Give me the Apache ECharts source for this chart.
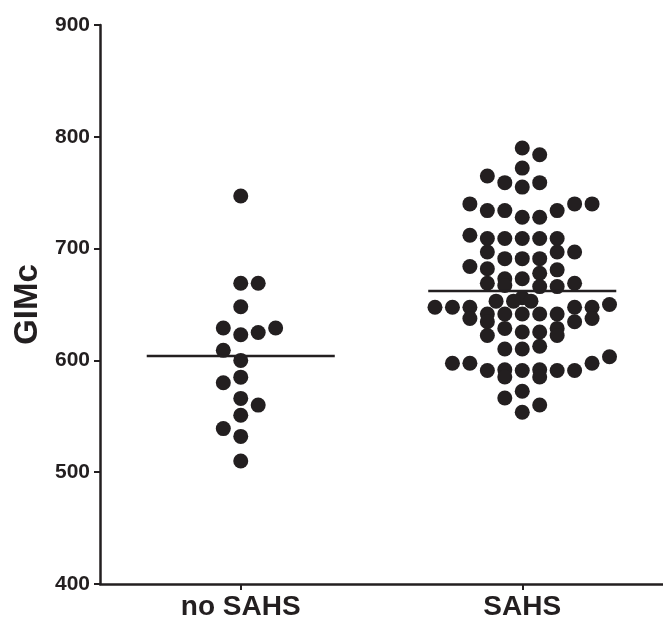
<!DOCTYPE html>
<html>
<head>
<meta charset="utf-8">
<script src="https://cdn.jsdelivr.net/npm/echarts@6/dist/echarts.min.js"></script>
<style>
  html, body { margin: 0; padding: 0; background: #ffffff; }
  #chart { width: 663px; height: 623px; }
</style>
</head>
<body>
<div id="chart"></div>
<script>
// Groups shown on the x axis
const categories = ['no SAHS', 'SAHS'];
const yTicks = [400, 500, 600, 700, 800, 900];

// GIMc values per subject, and the dot column each one sits in (0 = centre column)
const noSahsValues = [747, 669, 669, 648, 629, 623, 625, 629, 609, 600, 585, 580, 566, 560, 551, 539, 532, 510];
const noSahsSlots  = [0, 0, 1, 0, -1, 0, 1, 2, -1, 0, 0, -1, 0, 1, 0, -1, 0, 0];

const sahsValues = [
  790, 784, 772, 765, 759, 755, 759,
  740, 740, 740, 734, 734, 734, 728, 728,
  712, 709, 709, 709, 709, 709,
  697, 697, 697, 691, 691, 691,
  684, 682, 681, 678, 673, 673, 669, 669, 667, 666, 666,
  656, 653, 653, 653,
  647.5, 647.5, 647.5, 647.5, 647.5, 650,
  641.5, 641.5, 641.5, 641.5, 641.5,
  637.5, 637.5, 634.6, 634.6,
  628.6, 628.6, 625.4, 625.4, 622.3, 622.3,
  612.6, 610.2, 610.2,
  597.4, 597.4, 597.4, 603.3,
  591, 591.7, 591, 591.7, 591, 591,
  585.2, 585.2, 572.4, 566.4, 560.1, 553.6
];
const sahsSlots = [
  0, 1, 0, -2, -1, 0, 1,
  -3, 3, 4, -2, -1, 2, 0, 1,
  -3, -2, -1, 0, 1, 2,
  -2, 2, 3, -1, 0, 1,
  -3, -2, 2, 1, -1, 0, -2, 3, -1, 1, 2,
  0, -1.5, -0.5, 0.5,
  -5, -4, -3, 3, 4, 5,
  -2, -1, 0, 1, 2,
  -3, 4, -2, 3,
  -1, 2, 0, 1, -2, 2,
  1, -1, 0,
  -4, -3, 4, 5,
  -2, -1, 0, 1, 2, 3,
  -1, 1, 0, -1, 1, 0
];

const groups = [
  { values: noSahsValues, slots: noSahsSlots },
  { values: sahsValues, slots: sahsSlots }
];

const INK = '#231f20';
const FONT = 'Arial, "Liberation Sans", Helvetica, sans-serif';
const SLOT_STEP = 0.062;   // width of one dot column, in category units
const MEAN_HALF = 0.334;   // half length of the mean bar, in category units

const mean = arr => arr.reduce((s, v) => s + v, 0) / arr.length;

const dotSeries = groups.map((g, gi) => ({
  type: 'scatter',
  xAxisIndex: 1,
  symbol: 'circle',
  symbolSize: 15,
  itemStyle: { color: INK, opacity: 1 },
  data: g.values.map((v, i) => [gi + g.slots[i] * SLOT_STEP, v]),
  z: 2,
  silent: true
}));

const meanSeries = groups.map((g, gi) => {
  const m = mean(g.values);
  return {
    type: 'line',
    xAxisIndex: 1,
    showSymbol: false,
    lineStyle: { color: INK, width: 2.5 },
    data: [[gi - MEAN_HALF, m], [gi + MEAN_HALF, m]],
    z: 3,
    silent: true
  };
});

const chart = echarts.init(document.getElementById('chart'), null, { renderer: 'canvas' });
chart.setOption({
  animation: false,
  backgroundColor: '#ffffff',
  grid: { left: 100, top: 25, width: 569, height: 559, containLabel: false },
  xAxis: [
    {
      type: 'category',
      data: categories,
      boundaryGap: true,
      axisLine: { show: true, onZero: false, lineStyle: { color: INK, width: 2.5 } },
      axisTick: { show: true, alignWithLabel: true, length: 6, lineStyle: { color: INK, width: 2 } },
      axisLabel: { color: INK, fontFamily: FONT, fontWeight: 'bold', fontSize: 28, margin: 9 },
      splitLine: { show: false }
    },
    {
      type: 'value',
      min: -0.5,
      max: 1.5,
      show: false,
      splitLine: { show: false }
    }
  ],
  yAxis: {
    type: 'value',
    min: yTicks[0],
    max: yTicks[yTicks.length - 1],
    interval: 100,
    name: 'GIMc',
    nameLocation: 'middle',
    nameGap: 55,
    nameTextStyle: { color: INK, fontFamily: FONT, fontWeight: 'bold', fontSize: 33 },
    axisLine: { show: true, onZero: false, lineStyle: { color: INK, width: 2.5 } },
    axisTick: { show: true, length: 6, lineStyle: { color: INK, width: 2 } },
    axisLabel: { color: INK, fontFamily: FONT, fontWeight: 'bold', fontSize: 21, margin: 10 },
    splitLine: { show: false }
  },
  series: [...dotSeries, ...meanSeries]
});
</script>
</body>
</html>
